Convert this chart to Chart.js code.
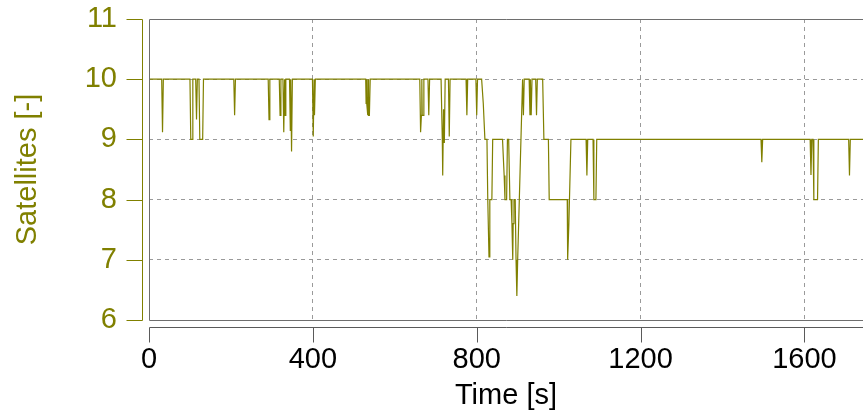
<!DOCTYPE html>
<html><head><meta charset="utf-8">
<script src="https://cdn.jsdelivr.net/npm/chart.js@4"></script>
<style>html,body{margin:0;padding:0;background:#fff;overflow:hidden}canvas{display:block}</style>
</head><body>
<canvas id="c" width="863" height="417"></canvas>
<script>
const times = [0,31,33,35,100,102,105,107,114,116,118,122,124,131,133,207,209,211,291,293,295,318,320,322,327,329,331,332,334,343,345,346,348,350,399,401,403,404,406,529,530,531,532,534,535,536,538,540,661,663,665,666,667,669,671,681,683,685,713,716,717,719,721,723,731,733,735,774,776,778,798,800,802,812,816,820,825,827,830,832,837,839,863,867,869,873,875,878,881,884,886,888,889,891,894,896,898,900,912,914,916,928,930,931,933,935,944,946,948,961,964,975,977,1021,1022,1025,1030,1067,1069,1071,1084,1086,1091,1093,1494,1496,1498,1614,1616,1618,1621,1623,1632,1634,1708,1710,1712,1745];
const satellites = [10,10,9.12,10,10,9,9,10,10,9.33,10,10,9,9,10,10,9.4,10,10,9.33,10,10,9.4,10,10,9.12,10,9.4,10,10,9.15,10,8.8,10,10,9.05,10,9.4,10,10,9.6,10,9.6,9.4,10,9.4,9.4,10,10,9.12,9.4,10,9.4,9.4,10,10,9.4,10,10,9.0,8.4,9.5,8.94,10,10,9.05,10,10,9.4,10,10,9.4,10,10,9.6,9.0,9.0,8.0,7.05,8.0,8.0,9.0,9.0,8.4,8.0,8.0,9.0,9.0,8.0,8.0,7.6,7.0,7.6,8.0,8.0,7.0,6.4,7.0,10,9.4,10,10,9.4,10,9.4,10,10,9.4,10,10,9.0,9.0,8.0,8.0,7.0,7.6,9.0,9.0,8.4,9.0,9.0,8.0,8.0,9.0,9.0,8.62,9.0,9.0,8.41,9.0,9.0,8.0,8.0,9.0,9.0,8.4,9.0,9.0];
const xTicks = [0,400,800,1200,1600];
const yTicks = [6,7,8,9,10,11];
const xLabel = 'Time [s]';
const yLabel = 'Satellites [-]';
const OLIVE = '#808000';
const FONT = 'Liberation Sans, Arial, sans-serif';

const axesPlugin = {
  id: 'axesPlugin',
  afterDraw(chart) {
    const {ctx, chartArea: a, scales: {x, y}} = chart;
    ctx.save();
    ctx.lineWidth = 1;
    ctx.strokeStyle = '#6e6e6e';
    ctx.beginPath();
    ctx.moveTo(a.right + 2, Math.round(a.top) + 0.5);
    ctx.lineTo(Math.round(a.left) + 0.5, Math.round(a.top) + 0.5);
    ctx.lineTo(Math.round(a.left) + 0.5, Math.round(a.bottom) + 0.5);
    ctx.lineTo(a.right + 2, Math.round(a.bottom) + 0.5);
    ctx.stroke();
    const yx = Math.round(a.left) - 6.5;
    ctx.strokeStyle = OLIVE;
    ctx.beginPath();
    ctx.moveTo(yx, Math.round(y.getPixelForValue(11)) + 0.5);
    ctx.lineTo(yx, Math.round(y.getPixelForValue(6)) + 0.5);
    yTicks.forEach(v => { const py = Math.round(y.getPixelForValue(v)) + 0.5; ctx.moveTo(yx - 16, py); ctx.lineTo(yx, py); });
    ctx.stroke();
    const xy = Math.round(a.bottom) + 7.5;
    ctx.strokeStyle = '#5a5a5a';
    ctx.beginPath();
    ctx.moveTo(Math.round(x.getPixelForValue(0)) + 0.5, xy);
    ctx.lineTo(a.right + 2, xy);
    xTicks.forEach(v => { const px = Math.round(x.getPixelForValue(v)) + 0.5; ctx.moveTo(px, xy); ctx.lineTo(px, xy + 15); });
    ctx.stroke();
    ctx.restore();
  }
};

new Chart(document.getElementById('c'), {
  type: 'line',
  data: {
    datasets: [{
      data: times.map((t, i) => ({x: t, y: satellites[i]})),
      borderColor: OLIVE,
      borderWidth: 1.2,
      pointRadius: 0,
      tension: 0,
      fill: false
    }]
  },
  options: {
    responsive: false,
    animation: false,
    devicePixelRatio: 1,
    layout: {padding: {top: 19, right: 0, left: 0, bottom: 0}},
    plugins: {legend: {display: false}, tooltip: {enabled: false}},
    scales: {
      x: {
        type: 'linear', min: 0, max: 1743,
        afterBuildTicks: s => { s.ticks = xTicks.map(v => ({value: v})); },
        afterFit: s => { s.height = 97; s.paddingLeft = 0; s.paddingRight = 0; },
        border: {display: false, dash: [4, 4]},
        grid: {
          drawTicks: false,
          color: c => (c.tick && c.tick.value === 0) ? 'rgba(0,0,0,0)' : '#9a9a9a',
          lineWidth: 1
        },
        ticks: {color: '#000', font: {family: FONT, size: 29}, padding: 23, maxRotation: 0, callback: v => String(v)},
        title: {display: true, text: xLabel, color: '#000', font: {family: FONT, size: 29, lineHeight: 1.2}, padding: {top: 0, bottom: 4}}
      },
      y: {
        type: 'linear', min: 6, max: 11,
        afterBuildTicks: s => { s.ticks = yTicks.map(v => ({value: v})); },
        afterFit: s => { s.width = 149; s.paddingTop = 0; s.paddingBottom = 0; },
        border: {display: false, dash: [4, 4]},
        grid: {
          drawTicks: false,
          color: c => (c.tick && (c.tick.value === 6 || c.tick.value === 11)) ? 'rgba(0,0,0,0)' : '#9a9a9a',
          lineWidth: 1
        },
        ticks: {color: OLIVE, font: {family: FONT, size: 29}, padding: 32, callback: v => String(v)},
        title: {display: true, text: yLabel, color: OLIVE, font: {family: FONT, size: 29, lineHeight: 1.2}, padding: {top: 11, bottom: 0}}
      }
    }
  },
  plugins: [axesPlugin]
});
</script>
</body></html>
